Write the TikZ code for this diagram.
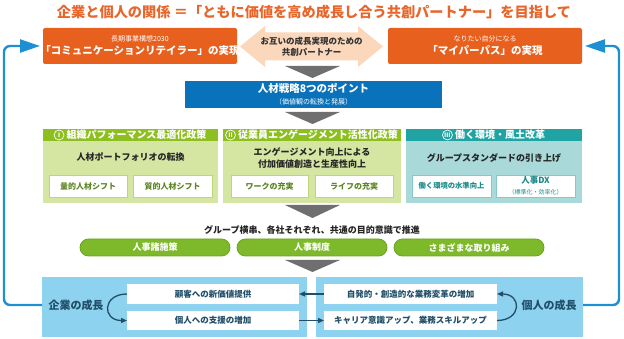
\documentclass[tikz,border=0pt]{standalone}
\usepackage{fontspec}
\setmainfont{Noto Sans CJK JP}
\usetikzlibrary{arrows.meta,calc}
\definecolor{titleor}{HTML}{E8662C}
\definecolor{orbox}{HTML}{E8601E}
\definecolor{peach}{HTML}{FBD8BC}
\definecolor{tri}{HTML}{6F6F6F}
\definecolor{bluebox}{HTML}{0A72BA}
\definecolor{ghead}{HTML}{8CBF1F}
\definecolor{gbody}{HTML}{D5E6A2}
\definecolor{gline}{HTML}{BCD77A}
\definecolor{gtext}{HTML}{5E8424}
\definecolor{thead}{HTML}{1FA3A3}
\definecolor{tbody}{HTML}{A9D9D9}
\definecolor{tline}{HTML}{86C9C9}
\definecolor{ttext}{HTML}{1C8A8A}
\definecolor{pill}{HTML}{7DB92A}
\definecolor{pillline}{HTML}{6CA41E}
\definecolor{lblue}{HTML}{8DD2EE}
\definecolor{dnavy}{HTML}{214E69}
\definecolor{loopc}{HTML}{1D8FD3}
\tikzset{
  rect/.style={inner sep=0pt,outer sep=0pt,anchor=north west},
  orbx/.style={rect,fill=orbox,rounded corners=2pt,text=white,align=center},
  ghd/.style={rect,fill=ghead,minimum height=12pt,text=white},
  thd/.style={rect,fill=thead,minimum height=12pt,text=white},
  gbd/.style={rect,fill=gbody,minimum height=62pt},
  tbd/.style={rect,fill=tbody,minimum height=62pt},
  gsub/.style={rect,fill=white,draw=gline,line width=0.8pt,minimum height=22pt},
  tsub/.style={rect,fill=white,draw=tline,line width=0.8pt,minimum height=22pt},
  gsubtxt/.style={text=gtext,font=\fontsize{8}{10}\selectfont\bfseries},
  pillbx/.style={rect,fill=pill,draw=pillline,line width=0.8pt,rounded corners=8.5pt,minimum height=17pt,minimum width=150pt},
  pilltxt/.style={text=white,font=\fontsize{9}{11}\selectfont\bfseries},
  wbx/.style={rect,fill=white},
  wtxt/.style={text=dnavy,font=\fontsize{8.5}{10}\selectfont\bfseries},
  bodytxt/.style={font=\fontsize{9}{12}\selectfont\bfseries,text=black!85,align=center},
  hdtxt/.style={font=\fontsize{10}{12}\selectfont\bfseries,text=white,inner sep=0pt},
  circ/.style={circle,draw=white,line width=0.7pt,inner sep=0pt,minimum size=10pt,font=\fontsize{6}{6}\selectfont\bfseries,text=white},
  loopline/.style={draw=loopc,line width=2.4pt,rounded corners=6pt,-{Triangle[length=20pt,width=13pt]}},
  midarr/.style={draw=dnavy,line width=1.3pt,-{Triangle[length=6pt,width=5pt]}},
  curv/.style={draw=dnavy,line width=1.3pt,-{Triangle[length=6pt,width=5pt]}},
  trifill/.style={fill=tri}
}
\begin{document}
\begin{tikzpicture}[x=1pt,y=-1pt]
\useasboundingbox (0,0) rectangle (624,339);
% title
\node[font=\fontsize{14.2}{16}\selectfont\bfseries,text=titleor,inner sep=0pt] (title) at (314,12) {企業と個人の関係 ＝「ともに価値を高め成長し合う共創パートナー」を目指して};
% double arrow
\fill[peach] (240,46.5) -- (265,26) -- (265,32.5) -- (358,32.5) -- (358,26) -- (383,46.5) -- (358,67) -- (358,60.5) -- (265,60.5) -- (265,67) -- cycle;
\node[font=\fontsize{8.5}{11.5}\selectfont\bfseries,text=black!80,align=center] (mid) at (311.5,46.5) {お互いの成長実現のための\\共創パートナー};
% orange boxes
\node[orbx,minimum width=194pt,minimum height=36pt] (LO) at (43,28) {};
\node[text=white,align=center,inner sep=0pt] (LOt) at (LO.center) {{\fontsize{7}{9}\selectfont 長期事業構想2030}\\[1pt]{\fontsize{10.5}{13}\selectfont\bfseries 「コミュニケーションリテイラー」の実現}};
\node[orbx,minimum width=194pt,minimum height=36pt] (RO) at (388,28) {};
\node[text=white,align=center,inner sep=0pt] (ROt) at (RO.center) {{\fontsize{7}{9}\selectfont なりたい自分になる}\\[1pt]{\fontsize{10.5}{13}\selectfont\bfseries 「マイパーパス」の実現}};
% triangle 1
\fill[trifill] (285,66) -- (340,66) -- (312.5,78) -- cycle;
% blue box
\node[rect,fill=bluebox,minimum width=257pt,minimum height=27pt] (BB) at (185,81) {};
\node[text=white,align=center,inner sep=0pt] (BBt) at (BB.center) {{\fontsize{10.5}{12}\selectfont\bfseries 人材戦略8つのポイント}\\[0pt]{\fontsize{7}{9}\selectfont （価値観の転換と発展）}};
% triangle 2
\fill[trifill] (285,112) -- (340,112) -- (312.5,124) -- cycle;
% panel 1
\node[ghd,minimum width=175pt] (P1h) at (43,129) {};
\node[gbd,minimum width=175pt] (P1b) at (43,141) {};
\node[hdtxt] (P1ht) at ([xshift=6pt]P1h.center) {組織パフォーマンス最適化政策};
\node[circ,anchor=east] (c1) at ([xshift=-2pt]P1ht.west) {Ⅰ};
\node[bodytxt] (P1t) at (130.5,157) {人材ポートフォリオの転換};
\node[gsub,minimum width=78pt] (P1s1) at (49,175) {};
\node[gsubtxt] at (P1s1.center) {量的人材シフト};
\node[gsub,minimum width=79pt] (P1s2) at (133,175) {};
\node[gsubtxt] at (P1s2.center) {質的人材シフト};
% panel 2
\node[ghd,minimum width=178pt] (P2h) at (223,129) {};
\node[gbd,minimum width=178pt] (P2b) at (223,141) {};
\node[hdtxt] (P2ht) at ([xshift=6pt]P2h.center) {従業員エンゲージメント活性化政策};
\node[circ,anchor=east] (c2) at ([xshift=-2pt]P2ht.west) {Ⅱ};
\node[bodytxt] (P2t) at (312,158.5) {エンゲージメント向上による\\付加価値創造と生産性向上};
\node[gsub,minimum width=77pt] (P2s1) at (231,175) {};
\node[gsubtxt] at (P2s1.center) {ワークの充実};
\node[gsub,minimum width=78pt] (P2s2) at (315,175) {};
\node[gsubtxt] at (P2s2.center) {ライフの充実};
% panel 3
\node[thd,minimum width=176pt] (P3h) at (406,129) {};
\node[tbd,minimum width=176pt] (P3b) at (406,141) {};
\node[hdtxt] (P3ht) at ([xshift=6pt]P3h.center) {働く環境・風土改革};
\node[circ,anchor=east] (c3) at ([xshift=-2pt]P3ht.west) {Ⅲ};
\node[bodytxt] (P3t) at (494,158) {グループスタンダードの引き上げ};
\node[tsub,minimum width=79pt] (P3s1) at (412,175) {};
\node[text=ttext,font=\fontsize{7.3}{9}\selectfont\bfseries] at (P3s1.center) {働く環境の水準向上};
\node[tsub,minimum width=79pt] (P3s2) at (496,175) {};
\node[text=ttext,align=center,inner sep=0pt] at (P3s2.center) {{\fontsize{8.5}{10}\selectfont\bfseries 人事DX}\\[-1pt]{\fontsize{6}{7.5}\selectfont（標準化・効率化）}};
% triangle 3
\fill[trifill] (285,205) -- (340,205) -- (312.5,218) -- cycle;
\node[font=\fontsize{9}{11}\selectfont\bfseries,text=black!85] (grp) at (312,230) {グループ横串、各社それぞれ、共通の目的意識で推進};
% pills
\node[pillbx] (pl1) at (80,239) {};
\node[pilltxt] at (pl1.center) {人事諸施策};
\node[pillbx] (pl2) at (237,239) {};
\node[pilltxt] at (pl2.center) {人事制度};
\node[pillbx] (pl3) at (394,239) {};
\node[pilltxt] at (pl3.center) {さまざまな取り組み};
% triangle 4
\fill[trifill] (285,260) -- (340,260) -- (312.5,272) -- cycle;
% bottom panels
\node[rect,fill=lblue,minimum width=265pt,minimum height=60pt] (BLp) at (42,277) {};
\node[rect,fill=lblue,minimum width=267pt,minimum height=60pt] (BRp) at (316,277) {};
\node[wbx,minimum width=172pt,minimum height=20pt] (LT) at (127,284) {};
\node[wtxt] at (LT.center) {顧客への新価値提供};
\node[wbx,minimum width=172pt,minimum height=19pt] (LB) at (127,311) {};
\node[wtxt] at (LB.center) {個人への支援の増加};
\node[wbx,minimum width=173pt,minimum height=20pt] (RT) at (324,284) {};
\node[wtxt] at (RT.center) {自発的・創造的な業務変革の増加};
\node[wbx,minimum width=173pt,minimum height=19pt] (RB) at (324,311) {};
\node[wtxt] at (RB.center) {キャリア意識アップ、業務スキルアップ};
\node[text=dnavy,font=\fontsize{11}{13}\selectfont\bfseries] (kg) at (76,305) {企業の成長};
\node[text=dnavy,font=\fontsize{11}{13}\selectfont\bfseries] (kj) at (549,305) {個人の成長};
% arrows in bottom
\draw[midarr] (RT.west) -- (LT.east);
\draw[midarr] (LB.east) -- (RB.west);
\draw[curv] (LT.west) .. controls +(-25,0) and +(-25,0) .. (LB.west);
\draw[curv] (RB.east) .. controls +(25,0) and +(25,0) .. (RT.east);
% loops
\coordinate (lc) at (4,46);
\coordinate (rc) at (619,46);
\draw[loopline,shorten >=3pt] ([yshift=2pt]BLp.west) -| (lc) -- (LO.west);
\draw[loopline,shorten >=3pt] ([yshift=2pt]BRp.east) -| (rc) -- (RO.east);
\end{tikzpicture}
\end{document}
